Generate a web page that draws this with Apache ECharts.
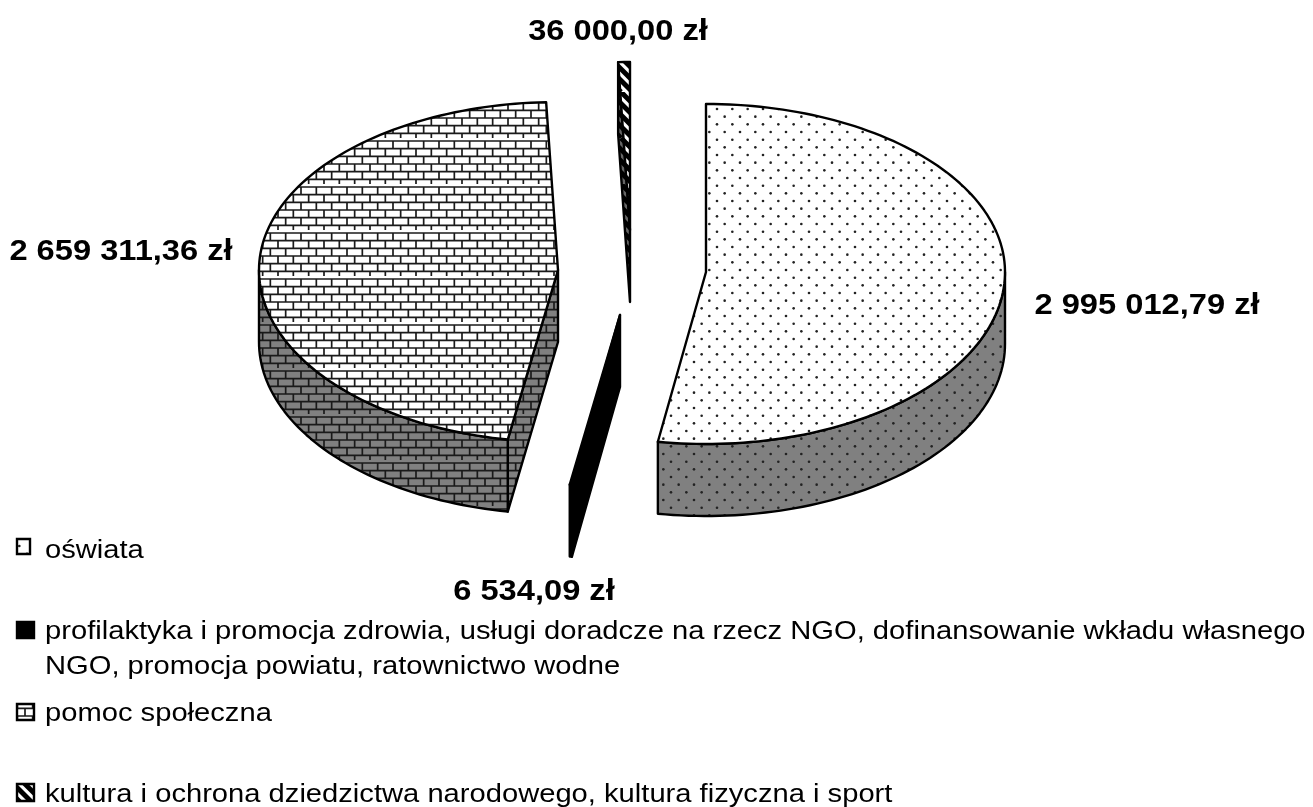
<!DOCTYPE html>
<html>
<head>
<meta charset="utf-8">
<style>
  html, body { margin: 0; padding: 0; background: #fff; }
  #main { width: 1313px; height: 807px; }
</style>
<script src="https://cdn.jsdelivr.net/npm/echarts@6/dist/echarts.min.js"></script>
</head>
<body>
<div id="main"></div>
<script>
const categories = [
  ["oświata"],
  ["profilaktyka i promocja zdrowia, usługi doradcze na rzecz NGO, dofinansowanie wkładu własnego", "NGO, promocja powiatu, ratownictwo wodne"],
  ["pomoc społeczna"],
  ["kultura i ochrona dziedzictwa narodowego, kultura fizyczna i sport"],
];
const values = [2995012.79, 6534.09, 2659311.36, 36000.0];

// layout of the "3D" pie
const center = [630, 272];
const radiusX = 299;
const radiusBack = 168;
const radiusFront = 172;
const depth = 72;
const explode = [[76, 0], [-10, 43], [-72, -2], [0, -42]];
const labelPos = [[1147, 306], [534, 592], [121, 252], [618, 32]];

// legend layout: swatch box [x, y, w, h], baseline of each text line
const swatches = [[17, 539, 13, 15], [17, 622, 17, 16], [17, 704, 17, 16], [17, 784, 17, 17]];
const legendBaselines = [[557], [638], [720], [801]];
legendBaselines[1].push(673);

const FONT = "Liberation Sans, Arial, sans-serif";
const total = values.reduce((a, b) => a + b, 0);

function makeTile(bg, draw) {
  const c = document.createElement("canvas");
  c.width = 46;
  c.height = 46;
  const ctx = c.getContext("2d");
  ctx.fillStyle = bg;
  ctx.fillRect(0, 0, 46, 46);
  draw(ctx);
  return { image: c, repeat: "repeat" };
}

function dots(ctx) {
  ctx.fillStyle = "#222";
  for (let k = 0; k < 6; k++) {
    for (let j = 0; j < 3; j++) {
      const x = (27 + j * 15.33 + (k % 2 ? 7.67 : 0)) % 46;
      const y = (17 + k * 7.67) % 46;
      ctx.beginPath();
      ctx.arc(x, y, 1.3, 0, Math.PI * 2);
      ctx.fill();
    }
  }
}

function bricks(ctx) {
  ctx.strokeStyle = "#1a1a1a";
  ctx.lineWidth = 1.7;
  for (let k = 0; k < 6; k++) {
    const y = 3 + k * 7.67;
    ctx.beginPath();
    ctx.moveTo(0, y);
    ctx.lineTo(46, y);
    ctx.stroke();
    for (let j = 0; j < 3; j++) {
      const x = (k % 2 ? 2 : 9.67) + j * 15.33;
      ctx.beginPath();
      ctx.moveTo(x, y);
      ctx.lineTo(x, y + 7.67);
      ctx.stroke();
    }
  }
}

function stripes(ctx) {
  ctx.strokeStyle = "#000";
  ctx.lineWidth = 5;
  for (let k = -4; k < 8; k++) {
    const s = k * 11.5;
    ctx.beginPath();
    ctx.moveTo(s, 0);
    ctx.lineTo(s + 46, 46);
    ctx.stroke();
  }
}

const topFills = [
  makeTile("#fff", dots),
  "#000",
  makeTile("#fff", bricks),
  makeTile("#fff", stripes),
];
const wallFills = [
  makeTile("#808080", dots),
  "#000",
  makeTile("#808080", bricks),
  makeTile("#666", stripes),
];

function formatMoney(v) {
  const parts = v.toFixed(2).split(".");
  return parts[0].replace(/\B(?=(\d{3})+$)/g, " ") + "," + parts[1] + " zł";
}

function rimPoint(tip, a) {
  const c = Math.cos(a);
  return [tip[0] + radiusX * Math.sin(a), tip[1] - c * (c > 0 ? radiusBack : radiusFront)];
}

function arcPoints(tip, a, b) {
  const pts = [];
  const n = Math.max(2, Math.ceil(((b - a) / Math.PI) * 120));
  for (let s = 0; s <= n; s++) {
    pts.push(rimPoint(tip, a + ((b - a) * s) / n));
  }
  return pts;
}

const down = (p) => [p[0], p[1] + depth];

function renderSlice(i, params, api) {
  const value = api.value(0);
  const before = values.slice(0, i).reduce((a, b) => a + b, 0);
  const a = (before / total) * Math.PI * 2;
  const b = ((before + value) / total) * Math.PI * 2;
  const tip = [center[0] + explode[i][0], center[1] + explode[i][1]];
  const line = { stroke: "#000", lineWidth: 2.4, lineJoin: "round" };
  const children = [];
  const poly = (points, fill) =>
    children.push({ type: "polygon", shape: { points }, style: { fill, ...line } });

  // side faces first, top face goes over them
  if (Math.sin(a) < 0) {
    const p = rimPoint(tip, a);
    poly([tip, p, down(p), down(tip)], wallFills[i]);
  }
  if (Math.sin(b) > 0) {
    const p = rimPoint(tip, b);
    poly([tip, p, down(p), down(tip)], wallFills[i]);
  }
  const from = Math.max(a, Math.PI / 2);
  const to = Math.min(b, (Math.PI * 3) / 2);
  if (to > from) {
    const rim = arcPoints(tip, from, to);
    poly(rim.concat(rim.map(down).reverse()), wallFills[i]);
  }
  poly([tip].concat(arcPoints(tip, a, b)), topFills[i]);

  children.push({
    type: "text",
    x: labelPos[i][0],
    y: labelPos[i][1],
    scaleX: 1.088,
    style: {
      text: formatMoney(value),
      fill: "#000",
      font: "bold 30px " + FONT,
      align: "center",
      verticalAlign: "middle",
    },
  });
  return { type: "group", children };
}

// text is stretched sideways in the original, so the legend is drawn by hand
const legendGraphic = [];
categories.forEach((lines, i) => {
  const s = swatches[i];
  legendGraphic.push({
    type: "rect",
    shape: { x: s[0], y: s[1], width: s[2], height: s[3] },
    style: { fill: topFills[i], stroke: "#000", lineWidth: 2.4 },
    silent: true,
  });
  lines.forEach((text, k) => {
    legendGraphic.push({
      type: "text",
      x: 45,
      y: legendBaselines[i][k] - 6,
      scaleX: 1.1,
      silent: true,
      style: { text, fill: "#000", font: "26.5px " + FONT, verticalAlign: "middle" },
    });
  });
});

const chart = echarts.init(document.getElementById("main"), null, { renderer: "canvas" });
chart.setOption({
  animation: false,
  backgroundColor: "#fff",
  graphic: legendGraphic,
  series: categories.map((lines, i) => ({
    type: "custom",
    name: lines.join(" "),
    coordinateSystem: "none",
    silent: true,
    data: [[values[i]]],
    renderItem: (params, api) => renderSlice(i, params, api),
  })),
});
</script>
</body>
</html>
